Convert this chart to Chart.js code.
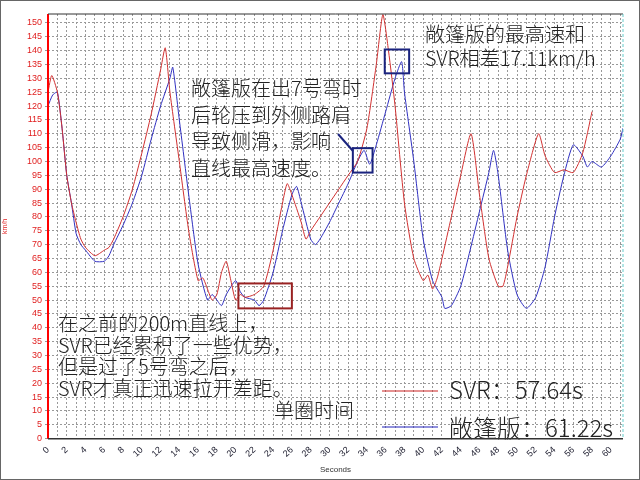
<!DOCTYPE html>
<html><head><meta charset="utf-8">
<script src="https://cdn.jsdelivr.net/npm/chart.js@4"></script>
<style>html,body{margin:0;padding:0;background:#fff}#w{position:absolute;left:0;top:0;width:638px;height:478px;border:1px solid #666}</style>
</head><body><div id="w"><canvas id="c" width="638" height="478"></canvas></div>
<script>
const svrT=[0,0.4,1,1.5,2,2.5,3,3.5,4,5,6,6.5,7,8,9,10,11,12,12.5,13,14,15,16,16.5,17,17.5,18,18.5,19,19.5,20,20.5,21,22,23,24,25,25.5,26,27,27.5,28,29,30,31,32,33,34,35,35.7,36.3,37,38,39,40,40.5,41,41.5,42,43,44,45.1,46,47,48,48.5,49,50,51,52.3,53,54,55,56,57,58];
const svrV=[125,131,125,112,95,85,78,72,69,66,68,69,72,80,90,103,117,133,141,125,100,75,57,58,54,50,52,60,64,57,50,52,51,52,55,68,85,92,88,78,72,75,80,85,90,95,100,112,135,153,140,120,85,65,57,59,54,58,65,80,95,110,88,65,55,55,62,80,95,110,102,96,97,96,103,118];
const gtT=[0,0.5,1,1.5,2,2.5,3,3.5,4,5,6,6.5,7,8,9,10,11,12,13,13.3,14,15,16,17,17.5,18,18.5,19,20,20.5,21,22,22.5,23,24,25,26,26.5,27,28,28.5,29,30,31,32,33,33.7,34.3,35,36,37,37.7,38,39,40,41,42,42.3,43,44,45,46,47,47.5,48,49,50,51,52,53,54,55,56,57,57.5,58,59,60,61,61.3];
const gtV=[120,124,125,112,95,85,74,70,68,64,64,66,70,77,85,95,108,120,130,134,115,88,63,50,52,50,48,52,57,53,51,50,48,50,60,75,88,91,85,72,70,72,78,85,92,100,104,99,106,118,130,136,125,100,72,57,51,47,48,55,68,82,96,104,95,68,52,47,51,62,80,95,106,102,98,100,98,102,108,112];
const legendNames=['SVR：57.64s','敞篷版：61.22s'];
const yTickVals=Array.from({length:31},(_,i)=>i*5);
const xTickVals=Array.from({length:62},(_,i)=>i);
const toPts=(t,v)=>t.map((x,i)=>({x,y:v[i]}));
const ann={
 id:'ann',
 afterDraw(ch){
  const c=ch.ctx,x=ch.scales.x,y=ch.scales.y;
  const rect=(x0,x1,y0,y1,col)=>{c.strokeStyle=col;c.lineWidth=2;c.strokeRect(x.getPixelForValue(x0),y.getPixelForValue(y1),x.getPixelForValue(x1)-x.getPixelForValue(x0),y.getPixelForValue(y0)-y.getPixelForValue(y1));};
  c.save();
  rect(20.3,26,47,56,'#992222');
  rect(32.5,34.6,96,104.8,'#1a237e');
  rect(35.9,38.5,131.8,140.4,'#1a237e');
  c.strokeStyle='#1a237e';c.lineWidth=2;c.beginPath();c.moveTo(337,133);c.lineTo(352,150);c.stroke();
  c.fillStyle='#222';c.textBaseline='alphabetic';
  c.font='300 20px "Noto Sans CJK SC"';
  ['敞篷版在出7号弯时','后轮压到外侧路肩','导致侧滑，影响','直线最高速度。'].forEach((s,i)=>c.fillText(s,190,95+i*26.5));
  c.font='300 20px "Noto Sans CJK SC"';
  ['在之前的200m直线上，','SVR已经累积了一些优势，','但是过了5号弯之后，','SVR才真正迅速拉开差距。'].forEach((s,i)=>c.fillText(s,57,330+i*21.5));
  ['敞篷版的最高速和','SVR相差17.11km/h'].forEach((s,i)=>c.fillText(s,424,41+i*24));
  c.font='300 20px "Noto Sans CJK SC"';c.fillText('单圈时间',273,417);
  c.font='300 24px "Noto Sans CJK SC"';
  c.fillText(legendNames[0],448,398);c.fillText(legendNames[1],448,436);
  c.lineWidth=1.2;c.strokeStyle='#cc2222';c.beginPath();c.moveTo(381,390);c.lineTo(437,390);c.stroke();
  c.strokeStyle='#2222bb';c.beginPath();c.moveTo(381,426);c.lineTo(437,426);c.stroke();
  c.strokeStyle='red';c.lineWidth=2;c.beginPath();c.moveTo(ch.chartArea.left,ch.chartArea.top);c.lineTo(ch.chartArea.left,ch.chartArea.bottom);c.stroke();
  c.strokeStyle='#333';c.lineWidth=1.5;c.beginPath();c.moveTo(ch.chartArea.left,ch.chartArea.bottom);c.lineTo(ch.chartArea.right,ch.chartArea.bottom);c.stroke();
  c.strokeStyle='#333';c.lineWidth=1;c.beginPath();c.moveTo(ch.chartArea.left,ch.chartArea.top);c.lineTo(ch.chartArea.right,ch.chartArea.top);c.stroke();
  c.strokeStyle='#66cccc';c.lineWidth=1;c.setLineDash([3,2]);c.beginPath();c.moveTo(ch.chartArea.right,ch.chartArea.top);c.lineTo(ch.chartArea.right,ch.chartArea.bottom);c.stroke();
  c.restore();
 }
};
new Chart(document.getElementById('c'),{
 type:'line',
 data:{datasets:[
  {label:'SVR',data:toPts(svrT,svrV),borderColor:'#d03030',borderWidth:1,pointRadius:0,tension:0.2},
  {label:'敞篷版',data:toPts(gtT,gtV),borderColor:'#3030c0',borderWidth:1,pointRadius:0,tension:0.2}
 ]},
 options:{responsive:false,animation:false,
  layout:{padding:{top:13,right:16,left:0,bottom:0}},
  plugins:{legend:{display:false},tooltip:{enabled:false}},
  scales:{
   x:{type:'linear',min:0,max:61.3,
    afterBuildTicks:s=>{s.ticks=xTickVals.map(v=>({value:v}))},
    grid:{color:'#999',drawTicks:false},border:{display:false,dash:[2,2]},
    ticks:{autoSkip:false,color:'#223',font:{size:9},padding:6,callback:v=>(v%2===0?v:'')},
    title:{display:true,text:'Seconds',font:{size:8},color:'#333',padding:{top:0}}},
   y:{min:0,max:153.2,
    afterBuildTicks:s=>{s.ticks=yTickVals.map(v=>({value:v}))},
    grid:{color:'#999',drawTicks:true,tickLength:3},border:{display:false,dash:[2,2]},
    ticks:{color:'#e02020',font:{size:9},autoSkip:false},
    afterFit:s=>{s.width=47},
    title:{display:true,text:'km/h',font:{size:7},color:'#e02020',padding:0}}
  }
 },
 plugins:[ann]
});
</script></body></html>
